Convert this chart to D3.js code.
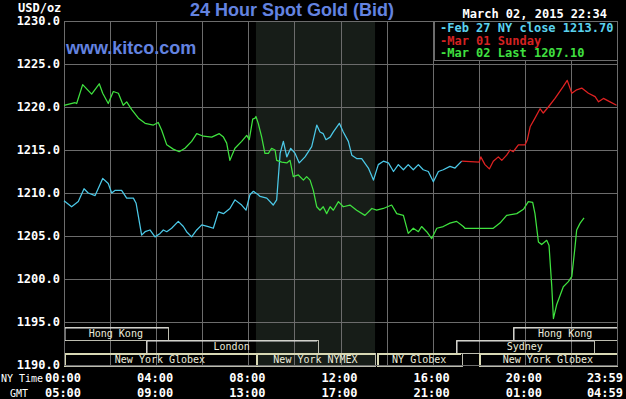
<!DOCTYPE html>
<html>
<head>
<meta charset="utf-8">
<script src="https://cdnjs.cloudflare.com/ajax/libs/d3/7.8.5/d3.min.js"></script>
<style>
  html, body { margin: 0; padding: 0; background: #000; }
  svg { display: block; }
  .mono { font-family: "DejaVu Sans Mono", "Liberation Mono", monospace; }
</style>
</head>
<body>
<svg id="chart" width="626" height="399"></svg>
<script>
// values: [NY hour, USD/oz]
var feb27Close = [
  [0.00,1209.1],[0.33,1208.4],[0.62,1209.0],[0.87,1210.5],[1.05,1210.0],[1.35,1209.7],
  [1.68,1211.7],[1.92,1211.1],[2.07,1210.0],[2.21,1210.3],[2.50,1210.3],[2.72,1209.4],
  [3.01,1209.4],[3.13,1208.8],[3.37,1205.1],[3.52,1205.5],[3.73,1205.7],[3.95,1204.9],
  [4.17,1205.3],[4.31,1205.7],[4.46,1205.5],[4.67,1205.9],[4.96,1206.7],[5.18,1206.1],
  [5.32,1205.5],[5.54,1204.9],[5.76,1205.7],[5.98,1206.3],[6.26,1206.1],[6.48,1205.9],
  [6.70,1207.8],[6.92,1207.6],[7.20,1208.2],[7.42,1209.2],[7.71,1208.6],[7.90,1208.0],
  [8.07,1209.8],[8.22,1210.2],[8.43,1209.8],[8.51,1209.6],[8.80,1209.4],[9.08,1208.6],
  [9.23,1209.2],[9.38,1214.6],[9.52,1216.0],[9.67,1214.2],[9.84,1215.2],[10.03,1214.6],
  [10.21,1213.5],[10.46,1214.2],[10.75,1215.4],[10.97,1217.9],[11.11,1217.1],[11.25,1216.9],
  [11.37,1216.2],[11.55,1216.5],[11.69,1217.1],[11.95,1218.1],[12.12,1217.1],[12.34,1216.0],
  [12.49,1214.4],[12.70,1214.0],[12.92,1214.0],[13.21,1212.9],[13.43,1211.5],[13.64,1213.3],
  [13.86,1213.7],[14.08,1213.5],[14.30,1212.5],[14.51,1213.3],[14.73,1212.7],[14.94,1213.3],
  [15.16,1212.7],[15.38,1213.3],[15.59,1212.7],[15.81,1212.5],[16.03,1211.3],[16.25,1212.5],
  [16.46,1212.7],[16.75,1213.1],[16.97,1212.9],[17.26,1213.7]
];

var mar01Sunday = [
  [17.26,1213.7],[18.02,1213.6],[18.09,1214.2],[18.27,1213.3],[18.46,1212.8],[18.63,1213.7],
  [18.85,1214.2],[19.00,1213.8],[19.21,1214.4],[19.36,1215.0],[19.50,1214.8],[19.72,1215.6],
  [20.01,1215.6],[20.11,1216.2],[20.23,1217.7],[20.44,1218.7],[20.66,1219.8],[20.80,1219.3],
  [21.02,1220.0],[21.31,1221.0],[21.67,1222.4],[21.84,1223.1],[22.04,1221.6],[22.25,1222.0],
  [22.47,1222.2],[22.76,1221.6],[23.05,1221.2],[23.20,1220.6],[23.41,1221.0],[23.70,1220.6],
  [23.98,1220.2]
];

var mar02Last = [
  [0.00,1220.2],[0.48,1220.5],[0.55,1220.4],[0.81,1222.6],[1.20,1221.5],[1.53,1222.7],
  [1.68,1221.6],[1.92,1220.4],[2.14,1221.8],[2.36,1221.6],[2.57,1220.2],[2.72,1220.6],
  [2.94,1219.7],[3.23,1218.7],[3.52,1218.1],[3.88,1217.9],[4.09,1218.2],[4.24,1217.3],
  [4.46,1215.6],[4.74,1215.1],[5.00,1214.8],[5.25,1215.2],[5.54,1216.0],[5.76,1216.9],
  [6.05,1216.6],[6.41,1216.5],[6.74,1216.9],[6.92,1216.5],[7.06,1215.8],[7.20,1213.8],
  [7.42,1215.2],[7.71,1216.0],[7.93,1216.7],[8.04,1216.2],[8.19,1218.6],[8.29,1218.7],
  [8.33,1218.9],[8.43,1218.1],[8.58,1216.5],[8.72,1214.6],[8.87,1214.6],[9.01,1215.2],
  [9.16,1215.0],[9.23,1213.8],[9.45,1213.6],[9.67,1213.5],[9.81,1213.8],[9.95,1211.9],
  [10.17,1212.1],[10.39,1211.5],[10.53,1211.9],[10.68,1211.5],[10.82,1210.3],[10.97,1208.4],
  [11.11,1208.0],[11.25,1208.4],[11.40,1207.6],[11.55,1208.4],[11.69,1208.0],[11.91,1209.0],
  [12.12,1208.4],[12.41,1208.6],[12.70,1208.0],[13.06,1207.4],[13.36,1208.2],[13.57,1208.0],
  [13.86,1208.2],[14.22,1208.6],[14.44,1207.6],[14.73,1207.4],[14.94,1205.3],[15.16,1205.9],
  [15.38,1205.5],[15.52,1206.1],[15.74,1205.5],[15.96,1204.7],[16.18,1205.9],[16.46,1206.1],
  [16.75,1206.5],[17.04,1206.7],[17.33,1206.1],[17.40,1205.9],[18.06,1205.9],[18.63,1205.9],
  [18.92,1206.5],[19.21,1207.4],[19.65,1207.6],[19.94,1208.1],[20.15,1209.0],[20.34,1208.9],
  [20.44,1207.6],[20.59,1204.3],[20.73,1204.0],[20.95,1204.5],[21.05,1203.9],[21.17,1199.1],
  [21.24,1195.4],[21.38,1197.0],[21.67,1199.1],[21.89,1199.7],[22.04,1200.3],[22.18,1203.8],
  [22.25,1205.7],[22.40,1206.5],[22.57,1207.1]
];

var priceTicks = [1190,1195,1200,1205,1210,1215,1220,1225,1230];
var hourTicks = [0,4,8,12,16,20,24];
var nyTimeLabels = ["00:00","04:00","08:00","12:00","16:00","20:00","23:59"];
var gmtLabels = ["05:00","09:00","13:00","17:00","21:00","01:00","04:59"];

// market sessions: [name, start hour, end hour, row]
var sessions = [
  ["Hong Kong", 0, 4.5, 0],
  ["Hong Kong", 19.5, 24, 0],
  ["London", 3.55, 11, 1],
  ["Sydney", 17, 23, 1],
  ["New York Globex", 0, 8.33, 2],
  ["New York NYMEX", 8.33, 13.5, 2],
  ["NY Globex", 13.58, 17.25, 2],
  ["New York Globex", 18, 24, 2]
];
var nymexPit = [8.33, 13.5];

var legendLabels = ["-Feb 27 NY close 1213.70", "-Mar 01 Sunday", "-Mar 02 Last 1207.10"];
var stamp = "March 02, 2015 22:34";

var svg = d3.select("#chart");
var pLeft = 64, pRight = 617, pTop = 21, pBottom = 365;

var x = d3.scaleLinear().domain([0, 24]).range([pLeft, pRight]);
var y = d3.scaleLinear().domain([1190, 1230]).range([pBottom, pTop]);
var row = d3.scaleBand().domain([0, 1, 2]).range([pBottom - 38, pBottom + 1]);

svg.append("rect").attr("width", 626).attr("height", 399).attr("fill", "#000");

// NYMEX pit hours shading
svg.append("rect")
  .attr("x", x(nymexPit[0])).attr("y", pTop)
  .attr("width", x(nymexPit[1]) - x(nymexPit[0]))
  .attr("height", pBottom - pTop)
  .attr("fill", "#171d18");

// grid
var gridColor = "#6c6c6c";
svg.append("g").selectAll("line").data(d3.range(0, 25, 2)).enter().append("line")
  .attr("x1", function(d) { return Math.round(x(d)) + 0.5; })
  .attr("x2", function(d) { return Math.round(x(d)) + 0.5; })
  .attr("y1", pTop).attr("y2", pBottom)
  .attr("stroke", gridColor);
svg.append("g").selectAll("line").data(priceTicks).enter().append("line")
  .attr("x1", pLeft).attr("x2", pRight)
  .attr("y1", function(d) { return Math.round(y(d)) + 0.5; })
  .attr("y2", function(d) { return Math.round(y(d)) + 0.5; })
  .attr("stroke", gridColor);

// session boxes
var sess = svg.append("g").selectAll("g").data(sessions).enter().append("g");
sess.append("rect")
  .attr("x", function(d) { return Math.round(x(d[1])) + 0.5; })
  .attr("y", function(d) { return Math.round(row(d[3])) + 0.5; })
  .attr("width", function(d) { return Math.round(x(d[2]) - x(d[1])); })
  .attr("height", row.bandwidth())
  .attr("fill", "none")
  .attr("stroke", "#bdbdb0");
sess.append("path")
  .attr("d", function(d) {
    var x0 = Math.round(x(d[1])) + 1, y0 = Math.round(row(d[3])) + 1;
    return "M" + x0 + "," + (y0 + row.bandwidth()) + "V" + y0 + "H" + Math.round(x(d[2]));
  })
  .attr("fill", "none")
  .attr("stroke", function(d) { return d[3] == 2 ? "#d8d8b4" : "#e4e4e4"; })
  .attr("stroke-width", function(d) { return d[3] == 2 ? 2 : 1; });
sess.append("text")
  .attr("class", "mono")
  .attr("x", function(d) { return x((d[1] + d[2]) / 2); })
  .attr("y", function(d) { return row(d[3]) + 10; })
  .attr("text-anchor", "middle")
  .attr("font-size", "10px")
  .attr("fill", "#ececdc")
  .text(function(d) { return d[0]; });

// frame
svg.append("rect").attr("x", pLeft + 0.5).attr("y", pTop + 0.5)
  .attr("width", pRight - pLeft).attr("height", pBottom - pTop)
  .attr("fill", "none").attr("stroke", gridColor);

// price lines
var line = d3.line()
  .x(function(d) { return x(d[0]); })
  .y(function(d) { return y(d[1]); });

var series = [
  [feb27Close, "#4cc9e8"],
  [mar02Last, "#3fe23f"],
  [mar01Sunday, "#e02222"]
];
series.forEach(function(s) {
  svg.append("path").datum(s[0])
    .attr("d", line)
    .attr("fill", "none")
    .attr("stroke", s[1])
    .attr("stroke-width", 1.25)
    .attr("stroke-linejoin", "round");
});

// y axis labels
var yAxis = svg.append("g")
  .attr("transform", "translate(" + (pLeft - 4) + ",0)")
  .call(d3.axisLeft(y).tickValues(priceTicks).tickFormat(d3.format(".1f")).tickSize(0).tickPadding(0));
yAxis.select(".domain").remove();
yAxis.selectAll("text")
  .attr("fill", "#fff")
  .attr("font-family", "DejaVu Sans Mono, monospace")
  .attr("font-weight", "bold")
  .attr("font-size", "12px");

// x axis labels
function timeRow(labels, ty) {
  svg.append("g").selectAll("text").data(hourTicks).enter().append("text")
    .attr("class", "mono")
    .attr("x", function(d, i) { return i == hourTicks.length - 1 ? x(d) + 6 : x(d) - 1; })
    .attr("y", ty)
    .attr("text-anchor", function(d, i) { return i == hourTicks.length - 1 ? "end" : "middle"; })
    .attr("font-size", "12px")
    .attr("font-weight", "bold")
    .attr("fill", "#fff")
    .text(function(d, i) { return labels[i]; });
}
timeRow(nyTimeLabels, 382);
timeRow(gmtLabels, 397);

svg.append("text").attr("class", "mono").attr("x", 1).attr("y", 382)
  .attr("font-size", "10px").attr("fill", "#fff").text("NY Time");
svg.append("text").attr("class", "mono").attr("x", 10).attr("y", 397)
  .attr("font-size", "10px").attr("fill", "#fff").text("GMT");

svg.append("text").attr("class", "mono").attr("x", 18).attr("y", 12)
  .attr("font-size", "12px").attr("font-weight", "bold").attr("fill", "#fff").text("USD/oz");

// titles
svg.append("text")
  .attr("x", 292).attr("y", 16)
  .attr("text-anchor", "middle")
  .attr("font-family", "Liberation Sans, Arial, sans-serif")
  .attr("font-weight", "bold")
  .attr("font-size", "18px")
  .attr("fill", "#6383e0")
  .text("24 Hour Spot Gold (Bid)");

svg.append("text")
  .attr("x", 66).attr("y", 54)
  .attr("font-family", "Liberation Sans, Arial, sans-serif")
  .attr("font-weight", "bold")
  .attr("font-size", "18px")
  .attr("fill", "#6383e0")
  .text("www.kitco.com");

svg.append("text").attr("class", "mono")
  .attr("x", 607).attr("y", 18).attr("text-anchor", "end")
  .attr("font-size", "12px").attr("font-weight", "bold").attr("fill", "#fff")
  .text(stamp);

// legend
svg.append("rect").attr("x", 434.5).attr("y", pTop + 0.5)
  .attr("width", pRight - 434).attr("height", 39)
  .attr("fill", "#000").attr("stroke", gridColor);
svg.append("g").selectAll("text").data(legendLabels).enter().append("text")
  .attr("class", "mono")
  .attr("x", 440)
  .attr("y", function(d, i) { return 32 + i * 12.5; })
  .attr("font-size", "12px")
  .attr("font-weight", "bold")
  .attr("fill", function(d, i) { return ["#5ad2ee", "#d42222", "#40e040"][i]; })
  .text(function(d) { return d; });
</script>
</body>
</html>
